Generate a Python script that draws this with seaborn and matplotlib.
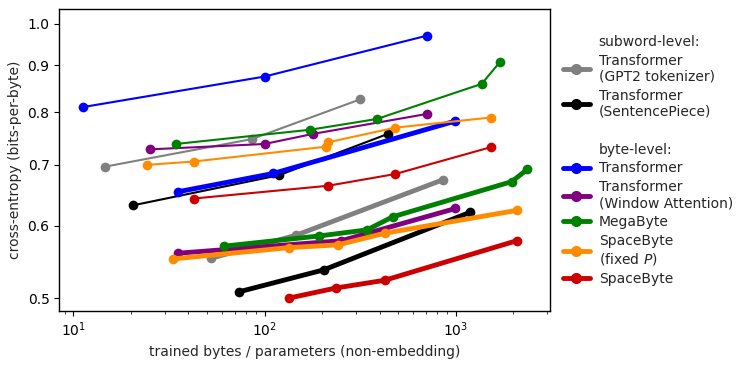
import numpy as np
import pandas as pd
import matplotlib
matplotlib.use("Agg")
import matplotlib.pyplot as plt
from matplotlib.lines import Line2D
from matplotlib.ticker import FixedLocator, NullLocator, FixedFormatter
import seaborn as sns

############### Data ##################################
# each model: smaller compute budget (thin line) and larger budget (thick line)
gpt2_small_x = [14.7, 85.5, 316]
gpt2_small_y = [0.697, 0.747, 0.826]
gpt2_large_x = [52.5, 146, 853]
gpt2_large_y = [0.553, 0.586, 0.674]

sp_small_x = [20.5, 119, 441]
sp_small_y = [0.632, 0.682, 0.757]
sp_large_x = [73.5, 204, 1186]
sp_large_y = [0.508, 0.537, 0.621]

tf_small_x = [11.2, 100, 703]
tf_small_y = [0.810, 0.875, 0.970]
tf_large_x = [35.2, 111, 995]
tf_large_y = [0.654, 0.685, 0.782]

win_small_x = [25.2, 100, 179, 703]
win_small_y = [0.728, 0.738, 0.757, 0.796]
win_large_x = [35.2, 252, 995]
win_large_y = [0.560, 0.578, 0.627]

mega_small_x = [34.4, 173, 386, 1365, 1702]
mega_small_y = [0.738, 0.765, 0.786, 0.859, 0.908]
mega_large_x = [61, 193, 343, 468, 1958, 2362]
mega_large_y = [0.570, 0.585, 0.594, 0.614, 0.671, 0.692]

spfix_small_x = [24.2, 42.6, 210, 214, 481, 1521]
spfix_small_y = [0.700, 0.706, 0.733, 0.741, 0.769, 0.789]
spfix_large_x = [33.2, 134, 242, 424, 2080]
spfix_large_y = [0.552, 0.568, 0.572, 0.589, 0.624]

space_small_x = [42.6, 214, 481, 1521]
space_small_y = [0.643, 0.664, 0.684, 0.732]
space_large_x = [134, 237, 424, 2080]
space_large_y = [0.500, 0.513, 0.523, 0.578]

models = ["Transformer\n(GPT2 tokenizer)", "Transformer\n(SentencePiece)",
          "Transformer", "Transformer\n(Window Attention)", "MegaByte",
          "SpaceByte\n(fixed $P$)", "SpaceByte"]
colors = ["gray", "black", "blue", "purple", "green", "darkorange", "#cc0000"]

series = [
    (gpt2_small_x, gpt2_small_y, gpt2_large_x, gpt2_large_y),
    (sp_small_x, sp_small_y, sp_large_x, sp_large_y),
    (tf_small_x, tf_small_y, tf_large_x, tf_large_y),
    (win_small_x, win_small_y, win_large_x, win_large_y),
    (mega_small_x, mega_small_y, mega_large_x, mega_large_y),
    (spfix_small_x, spfix_small_y, spfix_large_x, spfix_large_y),
    (space_small_x, space_small_y, space_large_x, space_large_y),
]

y_ticks = [0.5, 0.6, 0.7, 0.8, 0.9, 1.0]

############### Plot ##################################
sns.set_style("ticks")
plt.rcParams["font.family"] = ["DejaVu Sans"]

fig = plt.figure(figsize=(7.47, 3.65), dpi=100)
ax = fig.add_axes([0.0794, 0.148, 0.657, 0.8265])

for (sx, sy, lx, ly), c in zip(series, colors):
    df_s = pd.DataFrame({"x": sx, "y": sy})
    df_l = pd.DataFrame({"x": lx, "y": ly})
    sns.lineplot(data=df_s, x="x", y="y", ax=ax, color=c, linewidth=1.5,
                 marker="o", markersize=7, markeredgewidth=0, sort=False,
                 estimator=None)
    sns.lineplot(data=df_l, x="x", y="y", ax=ax, color=c, linewidth=3.5,
                 marker="o", markersize=7, markeredgewidth=0, sort=False,
                 estimator=None)

ax.set_xscale("log")
ax.set_yscale("log")
ax.set_xlim(8.45, 3110)
ax.set_ylim(0.484, 1.037)
ax.yaxis.set_major_locator(FixedLocator(y_ticks))
ax.yaxis.set_major_formatter(FixedFormatter([f"{t:.1f}" for t in y_ticks]))
ax.yaxis.set_minor_locator(NullLocator())
ax.set_xlabel("trained bytes / parameters (non-embedding)")
ax.set_ylabel("cross-entropy (bits-per-byte)")
for s in ax.spines.values():
    s.set_color("black")
    s.set_linewidth(1.0)
ax.tick_params(colors="black", labelcolor="black")

# legend with group headers
blank = Line2D([], [], color="none")
handles = [blank]
labels = ["subword-level:"]
for m, c in zip(models[:2], colors[:2]):
    handles.append(Line2D([], [], color=c, linewidth=3.5, marker="o", markersize=7))
    labels.append(m)
handles += [blank, blank]
labels += [" ", "byte-level:"]
for m, c in zip(models[2:], colors[2:]):
    handles.append(Line2D([], [], color=c, linewidth=3.5, marker="o", markersize=7))
    labels.append(m)

ax.legend(handles, labels, loc="center left", bbox_to_anchor=(1.0, 0.5),
          frameon=False, fontsize=10, labelspacing=0.35, handletextpad=0.6)

fig.savefig("out.png", dpi=100)
